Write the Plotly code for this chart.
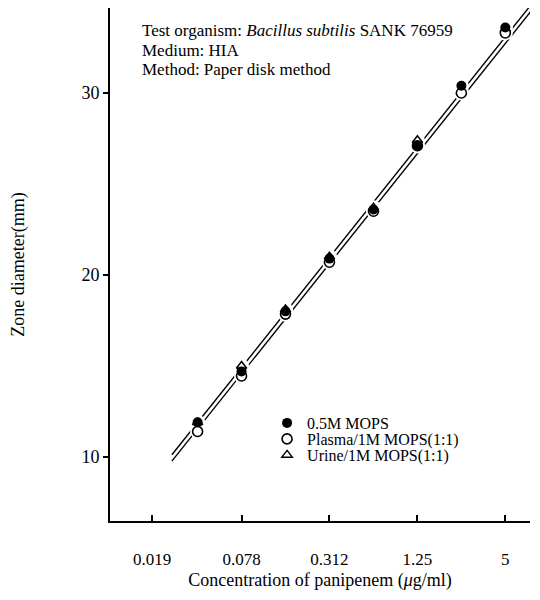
import numpy as np
import plotly.graph_objects as go

# Concentrations (µg/ml)
conc = [0.039, 0.078, 0.156, 0.312, 0.625, 1.25, 2.5, 5]
# Zone diameters (mm)
mops = [11.9, 14.7, 18.0, 20.9, 23.6, 27.1, 30.4, 33.6]
plasma = [11.4, 14.45, 17.85, 20.7, 23.5, 27.1, 30.0, 33.3]
urine = [11.9, 15.0, 18.1, 21.0, 23.7, 27.4, 30.05, 33.5]

series_names = ["0.5M MOPS", "Plasma/1M MOPS(1:1)", "Urine/1M MOPS(1:1)"]

# regression lines: intercept at 1 µg/ml, slope per decade, x extent
fit_intercepts = [26.05, 25.7]
fit_slope = 10.05
fit_x = [0.026, 8.0]

xtick_vals = [0.019, 0.078, 0.312, 1.25, 5]
xtick_text = ["0.019", "0.078", "0.312", "1.25", "5"]
ytick_vals = [10, 20, 30]

info_lines = ["Test organism: <i>Bacillus subtilis</i> SANK 76959",
              "Medium: HIA",
              "Method: Paper disk method"]

FONT = "Liberation Serif"
PLOT_H = 513  # plot-area height in px (figure is offset by the page's 8px body margin)

fig = go.Figure()

# fitted lines
for a in fit_intercepts:
    xs = np.array(fit_x)
    ys = a + fit_slope * np.log10(xs)
    fig.add_trace(go.Scatter(x=xs, y=ys, mode="lines",
                             line=dict(color="black", width=1.4),
                             showlegend=False, hoverinfo="skip"))

# white halos to break the lines around points
for ys in (mops, plasma, urine):
    fig.add_trace(go.Scatter(x=conc, y=ys, mode="markers",
                             marker=dict(color="white", size=15, line=dict(width=0)),
                             showlegend=False, hoverinfo="skip"))

fig.add_trace(go.Scatter(x=conc, y=urine, mode="markers", name=series_names[2],
                         legend="legend3",
                         marker=dict(symbol="triangle-up-open", size=9, color="black",
                                     line=dict(width=1.5, color="black"))))
fig.add_trace(go.Scatter(x=conc, y=plasma, mode="markers", name=series_names[1],
                         legend="legend2",
                         marker=dict(symbol="circle", size=10, color="white",
                                     line=dict(width=1.6, color="black"))))
fig.add_trace(go.Scatter(x=conc, y=mops, mode="markers", name=series_names[0],
                         legend="legend",
                         marker=dict(symbol="circle", size=10, color="black",
                                     line=dict(width=0))))

leg_common = dict(x=0.374, xanchor="left", yanchor="middle",
                  font=dict(size=16, family=FONT), bgcolor="rgba(0,0,0,0)",
                  itemwidth=30)
leg_rows = [415, 431, 447]

annotations = []
for i, t in enumerate(info_lines):
    cy = 23 + 19 * i
    annotations.append(dict(
        x=0.071, y=1 - cy / PLOT_H, xref="paper", yref="paper",
        xanchor="left", yanchor="middle", align="left", showarrow=False,
        text=t, font=dict(size=17, family=FONT)))

fig.update_layout(
    width=540, height=600,
    margin=dict(l=102, r=18, t=0, b=600 - PLOT_H),
    paper_bgcolor="white", plot_bgcolor="white",
    font=dict(family=FONT, color="black", size=16),
    legend=dict(y=1 - leg_rows[0] / PLOT_H, **leg_common),
    legend2=dict(y=1 - leg_rows[1] / PLOT_H, **leg_common),
    legend3=dict(y=1 - leg_rows[2] / PLOT_H, **leg_common),
    annotations=annotations,
)

fig.update_xaxes(type="log", range=[-2.009, 0.868],
                 tickvals=xtick_vals, ticktext=xtick_text,
                 ticks="inside", ticklen=6, tickwidth=1.5, tickcolor="black",
                 showline=True, linecolor="black", linewidth=2,
                 showgrid=False, zeroline=False,
                 ticklabelstandoff=22,
                 tickfont=dict(size=17, family=FONT),
                 title=dict(text="Concentration of panipenem (<i>μ</i>g/ml)",
                            font=dict(size=18, family=FONT), standoff=5))
fig.update_yaxes(range=[6.48, 34.67], tickvals=ytick_vals,
                 ticks="outside", ticklen=5, tickwidth=1.5, tickcolor="black",
                 showline=True, linecolor="black", linewidth=2,
                 showgrid=False, zeroline=False,
                 tickfont=dict(size=18, family=FONT),
                 title=dict(text="Zone diameter(mm)", font=dict(size=18, family=FONT),
                            standoff=58))

fig.write_html("out.html")
